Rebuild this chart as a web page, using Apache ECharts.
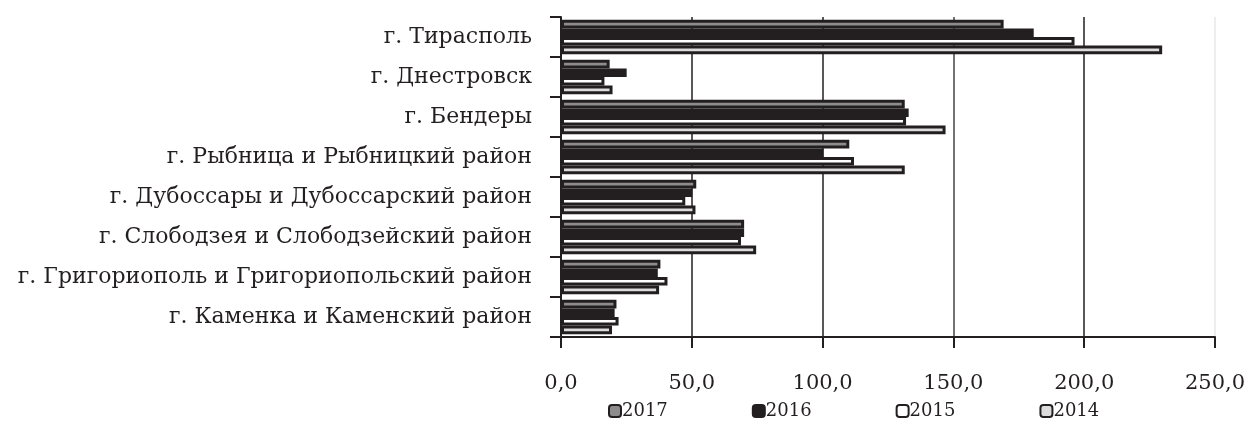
<!DOCTYPE html>
<html><head><meta charset="utf-8">
<script src="https://cdn.jsdelivr.net/npm/echarts@6/dist/echarts.min.js"></script>
<style>html,body{margin:0;padding:0;background:#fff}#c{width:1249px;height:426px}</style>
</head><body><div id="c"></div>
<script>
const categories = ['г. Тирасполь','г. Днестровск','г. Бендеры','г. Рыбница и Рыбницкий район','г. Дубоссары и Дубоссарский район','г. Слободзея и Слободзейский район','г. Григориополь и Григориопольский район','г. Каменка и Каменский район'];
const years = ['2017','2016','2015','2014'];
const v2017 = [169.2, 18.6, 131.4, 110.2, 51.7, 70.0, 38.0, 21.2];
const v2016 = [180.7, 25.1, 132.9, 100.3, 50.2, 70.0, 37.0, 20.5];
const v2015 = [196.3, 16.6, 131.9, 112.0, 47.5, 68.8, 40.7, 22.0];
const v2014 = [229.8, 19.7, 147.0, 131.4, 51.4, 74.6, 37.5, 19.5];
const xTicks = [0, 50, 100, 150, 200, 250];

const fills = ['#8c8c8c','#231f20','#ffffff','#dcdcdc'];
const values = [v2017, v2016, v2015, v2014];
const font = 'DejaVu Serif';
const chart = echarts.init(document.getElementById('c'));
chart.setOption({
  animation:false,
  textStyle:{fontFamily:font},
  grid:{left:561,right:34,top:17,bottom:89},
  legend:{data:years,left:603,bottom:1,itemWidth:12,itemHeight:12,itemGap:84,
    textStyle:{fontFamily:font,fontSize:18,color:'#231f20',padding:[0,0,0,-4]}},
  xAxis:{type:'value',min:xTicks[0],max:xTicks[xTicks.length-1],interval:50,
    axisLine:{show:true,lineStyle:{color:'#231f20',width:2}},
    axisTick:{show:true,length:11,lineStyle:{color:'#231f20',width:2}},
    axisLabel:{margin:36,fontSize:21,color:'#231f20',fontFamily:font,
      formatter:v=>v.toFixed(1).replace('.',',')},
    splitLine:{show:true,lineStyle:{color:['#231f20','#231f20','#231f20','#444','#231f20','#e8e8e8'],width:1.5}}},
  yAxis:{type:'category',data:categories,inverse:true,
    axisLine:{lineStyle:{color:'#231f20',width:2}},
    axisTick:{show:true,length:11,lineStyle:{color:'#231f20',width:2}},
    axisLabel:{margin:29,fontSize:22,color:'#231f20',fontFamily:font}},
  series: years.map((y,i)=>({name:y,type:'bar',data:values[i],barGap:'0%',barCategoryGap:'14%',
    itemStyle:{color:fills[i],borderColor:'#231f20',borderWidth:3}}))
});
</script></body></html>
